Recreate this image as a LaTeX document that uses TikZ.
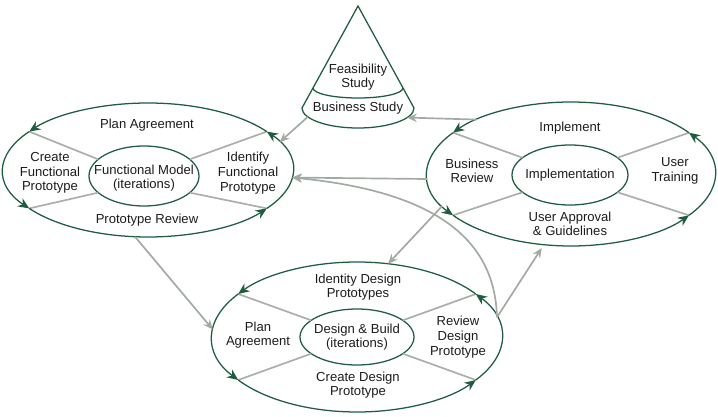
\documentclass[tikz,border=0pt]{standalone}
\usepackage{fontspec}
\setmainfont{Liberation Sans}
\usepackage{xcolor}
\definecolor{cRing}{HTML}{1F5C40}
\definecolor{cSpoke}{HTML}{A8B0A9}
\definecolor{cLink}{HTML}{A2AAA3}
\definecolor{cText}{HTML}{1C1C1C}
\usetikzlibrary{arrows.meta,shapes.geometric,calc}
\newcommand{\phasefont}{\fontsize{9.3}{10.4}\selectfont}
\tikzset{
  phase-core/.style={draw=cRing,line width=0.9pt,ellipse,inner sep=0pt,outer sep=0pt},
  phase-rim/.style={ellipse,inner sep=0pt,outer sep=0pt},
  task-label/.style={align=center,font=\phasefont,text=cText,inner sep=1pt},
  ring-arc/.style={-{Stealth[length=2.8mm,width=2.4mm]},draw=cRing,line width=0.9pt},
  spoke/.style={draw=cSpoke,line width=1.2pt},
  link/.style={-{Stealth[length=2.4mm,width=2.1mm]},draw=cLink,line width=1.2pt},
  cone/.style={draw=cRing,line width=0.9pt},
}

\begin{document}
\begin{tikzpicture}[x=0.25mm,y=0.25mm]
  \useasboundingbox (0,0) rectangle (718,416);

  % feasibility / business study cone
  \coordinate (apex) at (358,410);
  \draw[cone] (apex) -- (302,308) arc[start angle=180,end angle=360,x radius=56,y radius=20] -- cycle;
  \draw[cone] (313,328) arc[start angle=180,end angle=360,x radius=45,y radius=10];
  \node[phase-rim,minimum width=28mm,minimum height=10mm] (bs-rim) at (358,308) {};
  \node[task-label] (fs) at (358,339) {Feasibility\\Study};
  \node[task-label] (bs) at (358,308) {Business Study};

  % the three iteration cycles
  \node[phase-rim,minimum width=72.5mm,minimum height=33.5mm] (fm-rim) at (148,246) {};
  \node[phase-rim,minimum width=72mm,minimum height=36mm]     (im-rim) at (571,242) {};
  \node[phase-rim,minimum width=72.5mm,minimum height=37.5mm] (db-rim) at (357,79) {};
  \node[phase-core,minimum width=27.5mm,minimum height=15mm] (fm) at (144,240) {};
  \node[phase-core,minimum width=29mm,minimum height=15mm]   (im) at (570,241) {};
  \node[phase-core,minimum width=28.5mm,minimum height=14mm] (db) at (357,79) {};

  \foreach \c/\rx/\ry in {fm/145/67,im/144/72,db/145/75} {
    \foreach \a in {35,145,215,325}
      \path (\c-rim.center) ++({\rx*cos(\a)},{\ry*sin(\a)}) coordinate (\c-\a);
    \foreach \s/\a in {20/35,160/145,200/215,340/325}
      \draw[spoke] (\c.\s) -- (\c-\a);
    \foreach \a/\b in {35/145,145/215,215/325,325/395}
      \draw[ring-arc] (\c-\a) arc[start angle=\a,end angle=\b,x radius=\rx,y radius=\ry];
  }

  % labels
  \node[task-label] (fm-t)  at (144,238) {Functional Model\\(iterations)};
  \node[task-label] (fm-n)  at (147,291) {Plan Agreement};
  \node[task-label] (fm-w)  at (50,243)  {Create\\Functional\\Prototype};
  \node[task-label] (fm-e)  at (248,243) {Identify\\Functional\\Prototype};
  \node[task-label] (fm-s)  at (147,196) {Prototype Review};

  \node[task-label] (im-t)  at (im)      {Implementation};
  \node[task-label] (im-n)  at (570,288) {Implement};
  \node[task-label] (im-w)  at (472,245) {Business\\Review};
  \node[task-label] (im-e)  at (675,245) {User\\Training};
  \node[task-label] (im-s)  at (570,192) {User Approval\\\& Guidelines};

  \node[task-label] (db-t)  at (db)      {Design \& Build\\(iterations)};
  \node[task-label] (db-n)  at (358,129) {Identity Design\\Prototypes};
  \node[task-label] (db-w)  at (258,81)  {Plan\\Agreement};
  \node[task-label] (db-e)  at (458,79)  {Review\\Design\\Prototype};
  \node[task-label] (db-s)  at (358,31)  {Create Design\\Prototype};

  % links between phases
  \draw[link] (bs-rim.190) -- (fm-rim.12);
  \draw[link] (im-rim.150) -- (bs-rim.-11);
  \draw[link] (im-rim.182) -- (fm-rim.-3);
  \draw[link] (im-rim.194) -- (db-rim.67);
  \draw[link] (fm-rim.259) -- (db-rim.177);
  \draw[link,shorten >=1mm] (db-rim.8) -- (im-rim.249);
  \draw[link] (db-rim.8) .. controls (495,186) and (420,226) .. (fm-rim.-3);
\end{tikzpicture}
\end{document}
